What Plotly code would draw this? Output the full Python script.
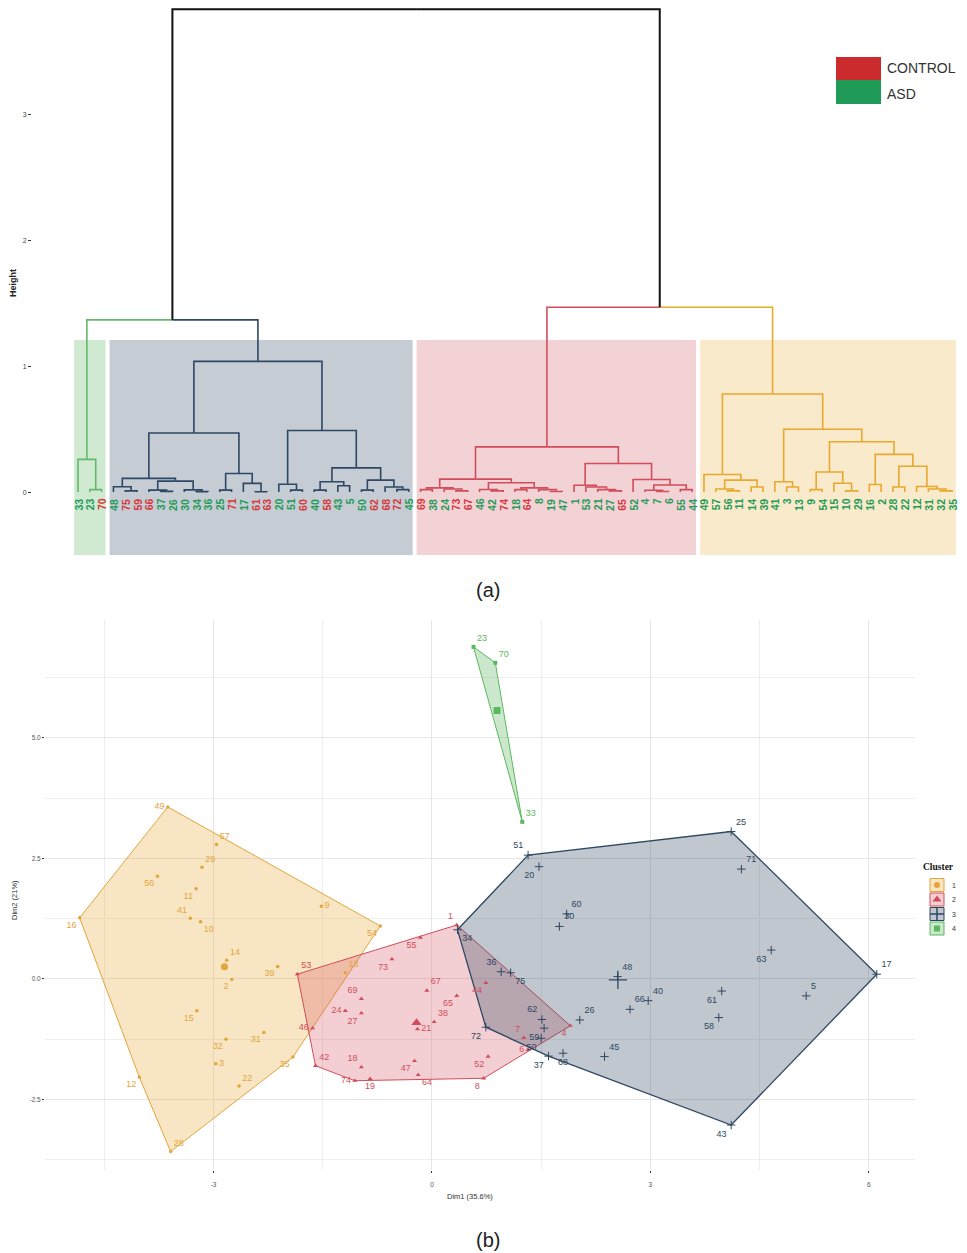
import plotly.graph_objects as go

W, H = 967, 1253
OX, OY = 8, 8                # browser body margin around the plot div
FW, FH = W - 2 * OX, H - OY  # visible area of the plot div inside the window


def px(x):
    return (x - OX) / FW


def py(y):
    return 1 - (y - OY) / FH


# ---------------------------------------------------------------- data (a)
LEAF_LABELS = ["33", "23", "70",
               "48", "75", "59", "66", "37", "26", "30", "34", "36", "25", "71", "17", "61",
               "63", "20", "51", "60", "40", "58", "43", "5", "50", "62", "68", "72", "45",
               "69", "38", "24", "73", "67", "46", "42", "74", "18", "64", "8", "19", "47",
               "1", "53", "21", "27", "65", "52", "4", "7", "6", "55", "44",
               "49", "57", "56", "11", "14", "39", "41", "3", "13", "9", "54", "15", "10",
               "29", "16", "2", "28", "22", "12", "31", "32", "35"]
LEAF_GROUP = (["A", "A", "C"]
              + ["A", "C", "C", "C", "A", "A", "A", "A", "A", "A", "C", "A", "C", "C", "A", "A",
                 "C", "A", "C", "A", "A", "A", "C", "C", "C", "A"]
              + ["C", "A", "A", "C", "C", "A", "A", "C", "A", "C", "A", "A", "A", "A", "A", "A",
                 "A", "C", "A", "A", "A", "A", "A", "A"]
              + ["A"] * 22)

# merge trees: [height, left, right]; leaves are 1-based leaf positions
GREEN_TREE = [0.26, 1, [0.02, 2, 3]]
BLUE_TREE = [1.04,
             [0.47,
              [0.109, [0.042, 4, [0.01, 5, 6]],
               [0.087, [0.016, 7, [0.006, 8, 9]], [0.018, 10, [0.004, 11, 12]]]],
              [0.148, [0.016, 13, 14], [0.069, 15, [0.003, 16, 17]]]],
             [0.49,
              [0.063, 18, [0.016, 19, 20]],
              [0.193, [0.082, [0.016, 21, 22], [0.05, 23, 24]],
               [0.095, [0.016, 25, 26], [0.04, 27, [0.02, 28, 29]]]]]]
RED_TREE = [0.36,
            [0.103,
             [0.034, [0.02, 30, 31], [0.025, 32, [0.01, 33, 34]]],
             [0.074, [0.021, 35, [0.01, 36, 37]],
              [0.034, [0.02, 38, 39], [0.02, 40, [0.005, 41, 42]]]]],
            [0.228,
             [0.055, 43, [0.04, 44, [0.02, 45, [0.01, 46, 47]]]],
             [0.1, 48, [0.057, [0.015, 49, [0.005, 50, 51]], [0.02, 52, 53]]]]]
YELLOW_TREE = [0.78,
               [0.14, 54, [0.095, [0.025, 55, [0.01, 56, 57]], [0.04, 58, 59]]],
               [0.5,
                [0.082, 60, [0.04, 61, 62]],
                [0.4,
                 [0.16, [0.02, 63, 64], [0.07, 65, [0.01, 66, 67]]],
                 [0.3, [0.06, 68, 69],
                  [0.206, [0.04, 70, 71], [0.045, 72, [0.025, 73, [0.01, 74, 75]]]]]]]]
LEFT_HEIGHT = 1.37
RIGHT_HEIGHT = 1.47
ROOT_HEIGHT = 3.84
HEIGHT_TICKS = [0, 1, 2, 3]

# ---------------------------------------------------------------- data (b)
C1_ID = ["49", "57", "29", "56", "11", "9", "16", "41", "10", "54", "14", "39", "2", "13",
         "15", "31", "32", "35", "3", "12", "22", "28"]
C1_X = [-3.63, -2.96, -3.16, -3.77, -3.24, -1.52, -4.84, -3.32, -3.18, -0.71, -2.82, -2.12,
        -2.75, -1.19, -3.23, -2.31, -2.83, -1.91, -2.97, -4.02, -2.65, -3.59]
C1_Y = [3.57, 2.79, 2.32, 2.13, 1.87, 1.51, 1.27, 1.26, 1.19, 1.10, 0.39, 0.26, -0.01, 0.13,
        -0.66, -1.11, -1.25, -1.62, -1.76, -2.04, -2.22, -3.58]

C2_ID = ["1", "55", "53", "73", "44", "67", "65", "69", "27", "24", "46", "38", "21", "7",
         "4", "6", "52", "42", "18", "47", "74", "19", "64", "8"]
C2_X = [0.34, -0.16, -1.85, -0.55, 0.74, -0.07, 0.34, -0.97, -0.97, -1.19, -1.64, 0.03,
        -0.20, 1.26, 1.90, 1.32, 0.77, -1.60, -0.97, -0.24, -1.06, -0.85, -0.19, 0.71]
C2_Y = [1.12, 0.86, 0.10, 0.41, -0.08, -0.24, -0.35, -0.41, -0.71, -0.66, -1.02, -0.89,
        -1.04, -1.22, -0.97, -1.47, -1.61, -1.80, -1.83, -1.70, -2.11, -2.07, -1.99, -2.06]

C3_ID = ["51", "25", "20", "71", "60", "30", "34", "63", "17", "36", "75", "48", "5", "61",
         "40", "66", "58", "26", "62", "59", "50", "72", "37", "68", "45", "43"]
C3_X = [1.32, 4.11, 1.47, 4.25, 1.85, 1.75, 0.35, 4.66, 6.11, 0.95, 1.08, 2.55, 5.14, 3.98,
        2.97, 2.72, 3.94, 2.03, 1.51, 1.54, 1.50, 0.74, 1.60, 1.80, 2.37, 4.11]
C3_Y = [2.57, 3.06, 2.33, 2.28, 1.35, 1.09, 1.02, 0.60, 0.10, 0.15, 0.13, 0.05, -0.35, -0.25,
        -0.45, -0.63, -0.80, -0.85, -0.84, -1.02, -1.23, -1.00, -1.60, -1.54, -1.61, -3.03]

C4_ID = ["23", "70", "33"]
C4_X = [0.57, 0.87, 1.24]
C4_Y = [6.89, 6.56, 3.26]

X_TICKS = [-3, 0, 3, 6]
X_TICK_TEXT = ["-3", "0", "3", "6"]
Y_TICKS = [-2.5, 0, 2.5, 5]
Y_TICK_TEXT = ["-2.5", "0.0", "2.5", "5.0"]
CLUSTER_NAMES = ["1", "2", "3", "4"]

# ---------------------------------------------------------------- styles
FONT = "Liberation Sans, Arial, sans-serif"
COL_GREEN = "#63b96b"
COL_BLUE = "#2d4765"
COL_RED = "#d14d5b"
COL_YELLOW = "#e8a82e"
RECT_FILL = {COL_GREEN: "rgba(99,185,107,0.30)", COL_BLUE: "rgba(45,71,101,0.28)",
             COL_RED: "rgba(209,77,91,0.25)", COL_YELLOW: "rgba(236,170,50,0.25)"}
GROUP_COL = {"C": "#d8363a", "A": "#1f9b57"}

CL_COL = ["#e3a53c", "#d14d5b", "#2e4761", "#5cb860"]
CL_FILL = ["rgba(232,168,56,0.30)", "rgba(209,77,91,0.27)", "rgba(46,71,97,0.30)",
           "rgba(92,184,96,0.32)"]
CL_SYMBOL = ["circle", "triangle-up", "cross-thin", "square"]
CL_SIZE = [3.5, 4.5, 6, 4]
CL_CSIZE = [7, 9, 13, 7]

POS = {
    # cluster 1
    "49": "middle left", "57": "top right", "29": "top right", "56": "bottom left",
    "11": "bottom left", "9": "middle right", "16": "bottom left", "41": "top left",
    "10": "bottom right", "54": "bottom left", "14": "top right", "39": "bottom left",
    "2": "bottom left", "13": "top right", "15": "bottom left", "31": "bottom left",
    "32": "bottom left", "35": "bottom left", "3": "middle right", "12": "bottom left",
    "22": "top right", "28": "top right",
    # cluster 2
    "1": "top left", "55": "bottom left", "53": "top right", "73": "bottom left",
    "44": "bottom left", "67": "top right", "65": "bottom left", "69": "top left",
    "27": "bottom left", "24": "middle left", "46": "middle left", "38": "top right",
    "21": "middle right", "7": "top left", "4": "bottom left", "6": "middle left",
    "52": "bottom left", "42": "top right", "18": "top left", "47": "bottom left",
    "74": "middle left", "19": "bottom center", "64": "bottom right", "8": "bottom left",
    # cluster 3
    "51": "top left", "25": "top right", "20": "bottom left", "71": "top right",
    "60": "top right", "30": "top right", "34": "bottom right", "63": "bottom left",
    "17": "top right", "36": "top left", "75": "bottom right", "48": "top right",
    "5": "top right", "61": "bottom left", "40": "top right", "66": "top right",
    "58": "bottom left", "26": "top right", "62": "top left", "59": "bottom left",
    "50": "bottom left", "72": "bottom left", "37": "bottom left", "68": "bottom center",
    "45": "top right", "43": "bottom left",
    # cluster 4
    "23": "top right", "70": "top right", "33": "top right",
}

fig = go.Figure()
annotations = []
shapes = []

# ---------------------------------------------------------------- dendrogram
segments = {}


def add_seg(color, xs, ys):
    sx, sy = segments.setdefault(color, ([], []))
    sx.extend(xs + [None])
    sy.extend(ys + [None])


def draw(node, color):
    if isinstance(node, int):
        return float(node), 0.0
    h, left, right = node
    xl, hl = draw(left, color)
    xr, hr = draw(right, color)
    x = (xl + xr) / 2
    add_seg(color, [xl, xl, x], [hl, h, h])
    add_seg(color, [xr, xr, x], [hr, h, h])
    return x, h


def leaves(node):
    if isinstance(node, int):
        return [node]
    return leaves(node[1]) + leaves(node[2])


def join(a, ca, b, cb, h):
    xa, ha = a
    xb, hb = b
    x = (xa + xb) / 2
    add_seg(ca, [xa, xa, x], [ha, h, h])
    add_seg(cb, [xb, xb, x], [hb, h, h])
    return x, h


trees = [(GREEN_TREE, COL_GREEN), (BLUE_TREE, COL_BLUE), (RED_TREE, COL_RED),
         (YELLOW_TREE, COL_YELLOW)]
tops = [draw(t, c) for t, c in trees]
left_node = join(tops[0], COL_GREEN, tops[1], COL_BLUE, LEFT_HEIGHT)
right_node = join(tops[2], COL_RED, tops[3], COL_YELLOW, RIGHT_HEIGHT)
join(left_node, "#111111", right_node, "#111111", ROOT_HEIGHT)

for t, c in trees:
    lv = leaves(t)
    shapes.append(dict(type="rect", xref="x", yref="y", x0=min(lv) - 0.33, x1=max(lv) + 0.33,
                       y0=-0.5, y1=1.21, fillcolor=RECT_FILL[c], line=dict(width=0),
                       layer="below"))

for color, (sx, sy) in segments.items():
    fig.add_trace(go.Scatter(x=sx, y=sy, mode="lines", xaxis="x", yaxis="y",
                             line=dict(color=color, width=2.0 if color == "#111111" else 1.6),
                             hoverinfo="skip", showlegend=False))

for i, (lab, grp) in enumerate(zip(LEAF_LABELS, LEAF_GROUP)):
    annotations.append(dict(x=i + 1, y=-0.035, xref="x", yref="y", text="<b>%s</b>" % lab,
                            textangle=-90, showarrow=False, xanchor="center", yanchor="top",
                            font=dict(family=FONT, size=10.5, color=GROUP_COL[grp])))

# legend CONTROL / ASD
shapes.append(dict(type="rect", xref="paper", yref="paper", x0=px(836), x1=px(881),
                   y0=py(80), y1=py(57), fillcolor="#cc2b2d", line=dict(width=0)))
shapes.append(dict(type="rect", xref="paper", yref="paper", x0=px(836), x1=px(881),
                   y0=py(104), y1=py(80), fillcolor="#1f9a57", line=dict(width=0)))
for txt, yy in (("CONTROL", 68), ("ASD", 94)):
    annotations.append(dict(x=px(885), y=py(yy), xref="paper", yref="paper", text=txt,
                            showarrow=False, xanchor="left", yanchor="middle",
                            font=dict(family=FONT, size=14, color="#333333")))

annotations.append(dict(x=px(13), y=py(283), xref="paper", yref="paper", text="<b>Height</b>",
                        textangle=-90, showarrow=False, xanchor="center", yanchor="middle",
                        font=dict(family=FONT, size=9, color="#222222")))
annotations.append(dict(x=px(488), y=py(590), xref="paper", yref="paper", text="(a)",
                        showarrow=False, xanchor="center", yanchor="middle",
                        font=dict(family=FONT, size=20, color="#222222")))

# ---------------------------------------------------------------- cluster plot


def hull(pts):
    pts = sorted(set(pts))
    if len(pts) < 3:
        return pts

    def cross(o, a, b):
        return (a[0] - o[0]) * (b[1] - o[1]) - (a[1] - o[1]) * (b[0] - o[0])
    lower, upper = [], []
    for p in pts:
        while len(lower) >= 2 and cross(lower[-2], lower[-1], p) <= 0:
            lower.pop()
        lower.append(p)
    for p in reversed(pts):
        while len(upper) >= 2 and cross(upper[-2], upper[-1], p) <= 0:
            upper.pop()
        upper.append(p)
    return lower[:-1] + upper[:-1]


clusters = [(C1_ID, C1_X, C1_Y), (C2_ID, C2_X, C2_Y), (C3_ID, C3_X, C3_Y),
            (C4_ID, C4_X, C4_Y)]

for k, (ids, xs, ys) in enumerate(clusters):
    hp = hull(list(zip(xs, ys)))
    hx = [p[0] for p in hp] + [hp[0][0]]
    hy = [p[1] for p in hp] + [hp[0][1]]
    fig.add_trace(go.Scatter(x=hx, y=hy, mode="lines", fill="toself", fillcolor=CL_FILL[k],
                             line=dict(color=CL_COL[k], width=1.3 if k == 2 else 1.0),
                             xaxis="x2", yaxis="y2", hoverinfo="skip", showlegend=False))

for k, (ids, xs, ys) in enumerate(clusters):
    marker = dict(symbol=CL_SYMBOL[k], size=CL_SIZE[k], color=CL_COL[k])
    if CL_SYMBOL[k].endswith("thin"):
        marker["line"] = dict(color=CL_COL[k], width=1)
    fig.add_trace(go.Scatter(x=xs, y=ys, mode="markers+text", text=ids,
                             textposition=[POS[i] for i in ids],
                             textfont=dict(family=FONT, size=9, color=CL_COL[k]),
                             marker=marker, xaxis="x2", yaxis="y2", hoverinfo="skip",
                             showlegend=False, cliponaxis=False))
    cmarker = dict(symbol=CL_SYMBOL[k], size=CL_CSIZE[k], color=CL_COL[k])
    if CL_SYMBOL[k].endswith("thin"):
        cmarker["line"] = dict(color=CL_COL[k], width=1.3)
    fig.add_trace(go.Scatter(x=[sum(xs) / len(xs)], y=[sum(ys) / len(ys)], mode="markers",
                             marker=cmarker, xaxis="x2", yaxis="y2", hoverinfo="skip",
                             showlegend=False))

# cluster legend (drawn in a small pixel-scaled axis)
LEG_ROWS = [885, 899.5, 914, 928.5]
for k, yy in enumerate(LEG_ROWS):
    shapes.append(dict(type="rect", xref="x3", yref="y3", x0=930, x1=944, y0=yy - 6.5,
                       y1=yy + 6.5, fillcolor=CL_FILL[k],
                       line=dict(color=CL_COL[k], width=1)))
    annotations.append(dict(x=950, y=yy, xref="x3", yref="y3", text=CLUSTER_NAMES[k],
                            showarrow=False, xanchor="left", yanchor="middle",
                            font=dict(family=FONT, size=7, color="#333333")))
    marker = dict(symbol=CL_SYMBOL[k], size=[6, 8, 10, 6][k], color=CL_COL[k])
    if CL_SYMBOL[k].endswith("thin"):
        marker["line"] = dict(color=CL_COL[k], width=1.5)
    fig.add_trace(go.Scatter(x=[937], y=[yy], mode="markers", marker=marker, xaxis="x3",
                             yaxis="y3", hoverinfo="skip", showlegend=False))
annotations.append(dict(x=px(921), y=py(867), xref="paper", yref="paper",
                        text="<b>Cluster</b>", showarrow=False, xanchor="left",
                        yanchor="middle",
                        font=dict(family="Liberation Serif, Times New Roman, serif", size=9.5,
                                  color="#111111")))

annotations.append(dict(x=px(470), y=py(1196), xref="paper", yref="paper",
                        text="Dim1 (35.6%)", showarrow=False, xanchor="center",
                        yanchor="middle",
                        font=dict(family=FONT, size=7.5, color="#333333")))
annotations.append(dict(x=px(14), y=py(900), xref="paper", yref="paper", text="Dim2 (21%)",
                        textangle=-90, showarrow=False, xanchor="center", yanchor="middle",
                        font=dict(family=FONT, size=7.5, color="#333333")))
annotations.append(dict(x=px(488), y=py(1240), xref="paper", yref="paper", text="(b)",
                        showarrow=False, xanchor="center", yanchor="middle",
                        font=dict(family=FONT, size=20, color="#222222")))

# ---------------------------------------------------------------- layout
fig.update_layout(
    width=FW, height=FH, margin=dict(l=0, r=0, t=0, b=0),
    paper_bgcolor="white", plot_bgcolor="rgba(0,0,0,0)",
    font=dict(family=FONT, color="#333333"),
    showlegend=False,
    xaxis=dict(domain=[px(32), 1.0], range=[-2.895, 75.593], visible=False, anchor="y"),
    yaxis=dict(domain=[py(560), py(OY)], range=[-0.54, 3.85], anchor="x",
               tickvals=HEIGHT_TICKS, ticktext=[str(v) for v in HEIGHT_TICKS],
               ticks="outside", ticklen=3, tickcolor="#333333", tickwidth=1,
               showgrid=False, zeroline=False, showline=False,
               tickfont=dict(size=7, color="#444444")),
    xaxis2=dict(domain=[px(45), px(915)], range=[-5.316, 6.635], anchor="y2",
                tickvals=X_TICKS, ticktext=X_TICK_TEXT, ticks="outside", ticklen=2,
                tickcolor="#333333", showgrid=True, gridcolor="#e6e6e6", gridwidth=1,
                zeroline=False, showline=False, tickfont=dict(size=6.5, color="#555555"),
                ticklabelstandoff=6,
                minor=dict(tickvals=[-4.5, -1.5, 1.5, 4.5], showgrid=True,
                           gridcolor="#eeeeee", gridwidth=0.8)),
    yaxis2=dict(domain=[py(1170), py(620)], range=[-3.963, 7.448], anchor="x2",
                tickvals=Y_TICKS, ticktext=Y_TICK_TEXT, ticks="outside", ticklen=2,
                tickcolor="#333333", showgrid=True, gridcolor="#e6e6e6", gridwidth=1,
                zeroline=False, showline=False, tickfont=dict(size=6.5, color="#555555"),
                minor=dict(tickvals=[-3.75, -1.25, 1.25, 3.75, 6.25], showgrid=True,
                           gridcolor="#eeeeee", gridwidth=0.8)),
    xaxis3=dict(domain=[px(920), 1.0], range=[920, W - OX], visible=False, anchor="y3"),
    yaxis3=dict(domain=[py(945), py(855)], range=[945, 855], visible=False, anchor="x3"),
    annotations=annotations,
    shapes=shapes,
)

fig.write_html("out.html")
